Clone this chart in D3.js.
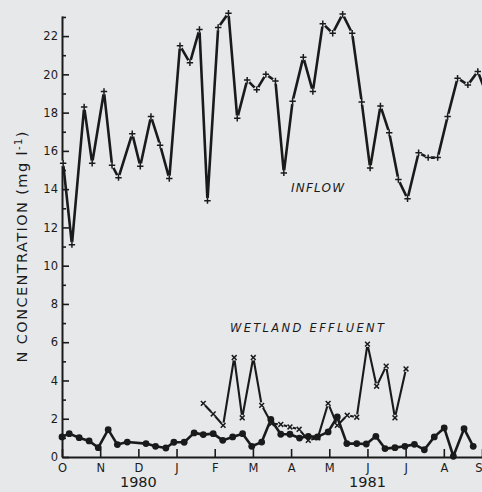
<!DOCTYPE html>
<html>
<head>
<meta charset="utf-8">
<script src="https://d3js.org/d3.v7.min.js"></script>
<style>
  body { margin: 0; background: #e7e8ea; }
  svg { display: block; }
  text { font-family: "DejaVu Sans", sans-serif; fill: #1a1a1a; }
</style>
</head>
<body>
<script>
// Months after 1 Oct 1980 (0 = O, 1 = N, ...) and N concentration (mg/l)
var inflowMonth = [0.03, 0.26, 0.58, 0.79, 1.10, 1.31, 1.48, 1.84, 2.05, 2.33, 2.57, 2.81,
  3.09, 3.35, 3.60, 3.81, 4.09, 4.36, 4.59, 4.85, 5.10, 5.34, 5.59, 5.81, 6.04, 6.32,
  6.57, 6.83, 7.09, 7.35, 7.60, 7.85, 8.07, 8.34, 8.57, 8.81, 9.05, 9.34, 9.59, 9.84,
  10.10, 10.36, 10.63, 10.89, 11.13];
var inflowN = [15.35, 11.1, 18.3, 15.35, 19.1, 15.25, 14.6, 16.9, 15.2, 17.8, 16.3, 14.55,
  21.5, 20.6, 22.35, 13.4, 22.45, 23.2, 17.7, 19.7, 19.2, 20.0, 19.65, 14.85, 18.6, 20.9,
  19.1, 22.65, 22.15, 23.15, 22.15, 18.55, 15.1, 18.35, 16.95, 14.5, 13.5, 15.9, 15.65, 15.65,
  17.8, 19.8, 19.45, 20.15, 18.9];

var effluentXMonth = [3.70, 3.96, 4.22, 4.51, 4.72, 5.01, 5.23, 5.49, 5.73, 5.97, 6.21,
  6.45, 6.70, 6.97, 7.21, 7.47, 7.72, 8.00, 8.24, 8.49, 8.72, 9.01];
var effluentXN = [2.8, 2.25, 1.65, 5.2, 2.05, 5.2, 2.7, 1.75, 1.7, 1.57, 1.45,
  0.87, 1.0, 2.8, 1.65, 2.18, 2.08, 5.9, 3.7, 4.75, 2.05, 4.6];

var effluentDotMonth = [0.0, 0.19, 0.45, 0.71, 0.95, 1.21, 1.45, 1.71, 2.20, 2.45, 2.72,
  2.93, 3.20, 3.46, 3.70, 3.96, 4.21, 4.47, 4.73, 4.97, 5.23, 5.47, 5.73, 5.97, 6.22,
  6.45, 6.69, 6.97, 7.21, 7.46, 7.72, 7.97, 8.22, 8.46, 8.72, 8.98, 9.23, 9.49, 9.75,
  10.01, 10.25, 10.53, 10.77];
var effluentDotN = [1.05, 1.22, 1.01, 0.84, 0.49, 1.43, 0.65, 0.78, 0.70, 0.56, 0.47,
  0.77, 0.77, 1.26, 1.17, 1.22, 0.87, 1.05, 1.22, 0.56, 0.78, 1.96, 1.19, 1.19, 0.99,
  1.08, 1.05, 1.31, 2.09, 0.70, 0.70, 0.68, 1.08, 0.44, 0.49, 0.56, 0.66, 0.38, 1.05,
  1.52, 0.04, 1.48, 0.56];

var monthLabels = ["O", "N", "D", "J", "F", "M", "A", "M", "J", "J", "A", "S"];
var yearLabels = ["1980", "1981"];
var yearAt = [2, 8];

var bg = "#e7e8ea", ink = "#1a1a1a";
var width = 482, height = 492;

var svg = d3.select("body").append("svg")
    .attr("width", width)
    .attr("height", height);

var x = d3.scaleLinear().domain([0, 11]).range([62, 482]);
var y = d3.scaleLinear().domain([0, 23.05]).range([457, 16]);

// minor ticks at odd values (no labels)
svg.append("g")
    .attr("transform", "translate(" + x(0) + ",0)")
    .call(d3.axisLeft(y).tickValues(d3.range(1, 24, 2)).tickSize(-4).tickSizeOuter(0).tickFormat(""))
    .call(function(g) { g.select(".domain").remove(); });

// y axis with major ticks
var yAxis = svg.append("g")
    .attr("transform", "translate(" + x(0) + ",0)")
    .call(d3.axisLeft(y).tickValues(d3.range(0, 23, 2)).tickSize(-7).tickSizeOuter(0).tickPadding(4));
yAxis.selectAll("text").style("font-size", "11.5px").style("fill", ink);

// x axis, ticks pointing up
var xAxis = svg.append("g")
    .attr("transform", "translate(0," + y(0) + ")")
    .call(d3.axisBottom(x).tickValues(d3.range(0, 12)).tickSize(-8).tickSizeOuter(0).tickPadding(7)
      .tickFormat(function(d) { return monthLabels[d]; }));
xAxis.selectAll("text").style("font-size", "11.5px").style("fill", ink);
// last label sits on the right edge
xAxis.selectAll(".tick text").filter(function(d) { return d === 11; })
    .attr("text-anchor", "end");

svg.selectAll(".domain, .tick line")
    .attr("stroke", ink)
    .attr("stroke-width", 1.6);
svg.selectAll(".domain").attr("stroke-width", 2);

svg.selectAll(".year")
    .data(yearLabels)
  .enter().append("text")
    .attr("class", "year")
    .attr("x", function(d, i) { return x(yearAt[i]); })
    .attr("y", 487)
    .attr("text-anchor", "middle")
    .style("font-size", "14.5px")
    .text(function(d) { return d; });

// y axis title
var title = svg.append("text")
    .attr("transform", "translate(27,247) rotate(-90)")
    .attr("text-anchor", "middle")
    .attr("textLength", 231)
    .attr("lengthAdjust", "spacing")
    .style("font-size", "14.5px");
title.append("tspan").text("N CONCENTRATION (mg l");
title.append("tspan").attr("dy", -5).style("font-size", "10px").text("-1");
title.append("tspan").attr("dy", 5).text(")");

function zipData(mx, vals) {
  return mx.map(function(m, i) { return {m: m, v: vals[i]}; });
}

var line = d3.line()
    .x(function(d) { return x(d.m); })
    .y(function(d) { return y(d.v); });

var inflow = zipData(inflowMonth, inflowN),
    effX = zipData(effluentXMonth, effluentXN),
    effDot = zipData(effluentDotMonth, effluentDotN);

// series drawn with little breaks round each symbol, like the old plot
function drawBroken(data, symbol, lw) {
  var g = svg.append("g");
  g.append("path")
      .datum(data)
      .attr("d", line)
      .attr("fill", "none")
      .attr("stroke", ink)
      .attr("stroke-width", lw)
      .attr("stroke-linejoin", "round");
  g.selectAll("circle")
      .data(data)
    .enter().append("circle")
      .attr("cx", function(d) { return x(d.m); })
      .attr("cy", function(d) { return y(d.v); })
      .attr("r", 3)
      .attr("fill", bg);
  g.selectAll(".sym")
      .data(data)
    .enter().append("path")
      .attr("class", "sym")
      .attr("transform", function(d) { return "translate(" + x(d.m) + "," + y(d.v) + ")"; })
      .attr("d", symbol)
      .attr("stroke", ink)
      .attr("stroke-width", 1.5)
      .attr("fill", "none");
}

drawBroken(inflow, "M-3.2,0H3.2M0,-3.2V3.2", 2.6);
drawBroken(effX, "M-2.4,-2.4L2.4,2.4M-2.4,2.4L2.4,-2.4", 2.1);

// effluent with filled dots
svg.append("path")
    .datum(effDot)
    .attr("d", line)
    .attr("fill", "none")
    .attr("stroke", ink)
    .attr("stroke-width", 2.6)
    .attr("stroke-linejoin", "round");

svg.selectAll(".dot")
    .data(effDot)
  .enter().append("circle")
    .attr("class", "dot")
    .attr("cx", function(d) { return x(d.m); })
    .attr("cy", function(d) { return y(d.v); })
    .attr("r", 3.4)
    .attr("fill", ink);

// series labels
svg.append("text")
    .attr("x", 291)
    .attr("y", 192)
    .attr("textLength", 53)
    .attr("lengthAdjust", "spacing")
    .style("font-size", "12px")
    .style("font-style", "italic")
    .text("INFLOW");

svg.append("text")
    .attr("x", 230)
    .attr("y", 332)
    .attr("textLength", 154)
    .attr("lengthAdjust", "spacing")
    .style("font-size", "11.5px")
    .style("font-style", "italic")
    .text("WETLAND EFFLUENT");
</script>
</body>
</html>
